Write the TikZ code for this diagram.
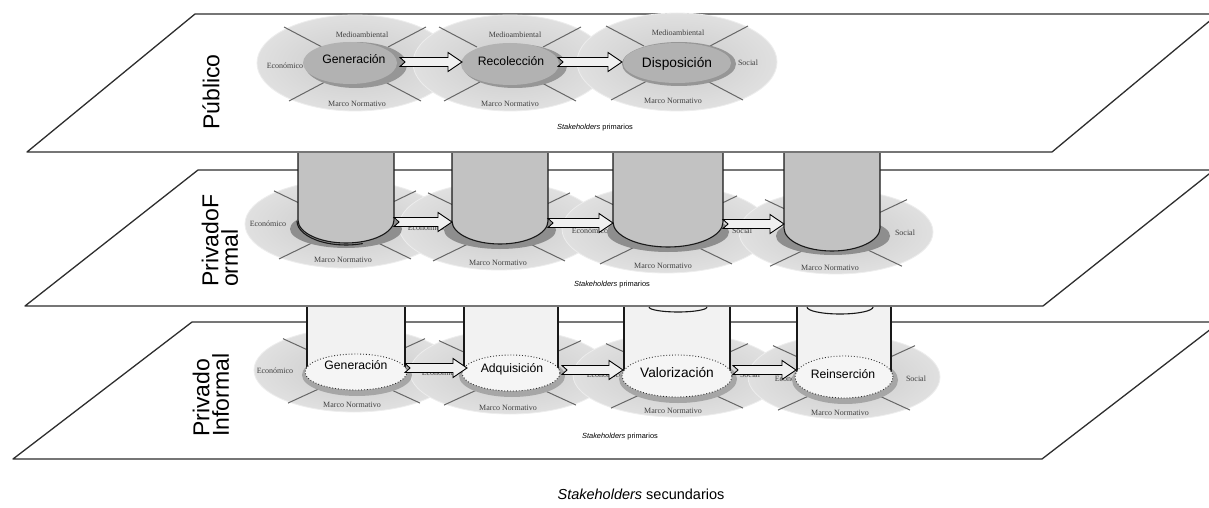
\documentclass[tikz,border=0pt]{standalone}
\usepackage{fontspec}
\setmainfont{Liberation Serif}
\newfontfamily\arialf{Liberation Sans}
\newfontfamily\timesf{Liberation Serif}
\usetikzlibrary{calc}
\definecolor{linec}{HTML}{2E2E2E}
\definecolor{ringin}{HTML}{CACACA}
\definecolor{ringout}{HTML}{E0E0E0}
\definecolor{ringedge}{HTML}{EDEDED}
\definecolor{xlinec}{HTML}{666666}
\definecolor{labc}{HTML}{404040}
\definecolor{innerc}{HTML}{B2B2B2}
\definecolor{innersh}{HTML}{969696}
\definecolor{midsh}{HTML}{8E8E8E}
\definecolor{cylmidc}{HTML}{C2C2C2}
\definecolor{botsh}{HTML}{A6A6A6}
\definecolor{cylbotc}{HTML}{F2F2F2}
\definecolor{dotfill}{HTML}{F5F5F5}
\definecolor{arrfill}{HTML}{F0F0F0}
\newcommand\ring[4]{\path[ring] (#1,#2) ellipse [x radius=#3pt, y radius=#4pt];}
\newcommand\xlines[3]{\begin{scope}[shift={(#1,#2)}, yscale=#3]
  \draw[xline] (-33,-16) -- (-71,-36);
  \draw[xline] (33,-16) -- (71,-36);
  \draw[xline] (-30,19) -- (-66,38);
  \draw[xline] (30,19) -- (66,38);
\end{scope}}
\newcommand\lab[4]{\node[lab] (#1) at (#2,#3) {#4};}
\newcommand\blockarrow[2]{\draw[arr] let \p1=(#1), \p2=(#2) in
  (\x1,\y1+4.5) -- (\x2-14,\y1+4.5) -- (\x2-14,\y1+9.5) -- (\x2,\y1) --
  (\x2-14,\y1-9.5) -- (\x2-14,\y1-4.5) -- (\x1,\y1-4.5) -- (\x1+5,\y1) -- cycle;}
% middle cylinder: name, cx, half width, bottom-arc centre y, arc ry
\newcommand\graycyl[5]{%
  \fill[cylmidc] (#2-#3,153) -- (#2-#3,#4) arc[start angle=180, end angle=360, x radius=#3pt, y radius=#5pt] -- (#2+#3,153) -- cycle;
  \draw[cylline] (#2-#3,153) -- (#2-#3,#4) arc[start angle=180, end angle=360, x radius=#3pt, y radius=#5pt] -- (#2+#3,153);
  \coordinate (#1) at (#2,#4);}
% bottom cylinder: name, cx, cy, rx, ry
\newcommand\lightcyl[5]{%
  \path[fill=botsh] (#2+1,#3+3) ellipse [x radius=#4pt+4pt, y radius=#5pt+3pt];
  \fill[cylbotc] (#2-#4+2,307) rectangle (#2+#4-2,#3);
  \draw[cylline] (#2-#4+2,307) -- (#2-#4+2,#3) (#2+#4-2,307) -- (#2+#4-2,#3);
  \path[fill=dotfill, draw=linec, dotted, line width=0.9pt] (#2,#3) ellipse [x radius=#4pt, y radius=#5pt];
  \coordinate (#1) at (#2,#3);}
\begin{document}
\begin{tikzpicture}[x=1pt,y=-1pt,
  layer/.style={draw=linec, line width=1.3pt, fill=white, line join=round},
  ring/.style={inner color=ringin, outer color=ringout, draw=ringedge, line width=0.8pt},
  xline/.style={draw=xlinec, line width=1pt},
  lab/.style={font=\timesf\fontsize{8}{9}\selectfont, text=labc, inner sep=0pt},
  big/.style={font=\arialf\fontsize{12.2}{14}\selectfont, inner sep=0pt, anchor=base},
  bigger/.style={font=\arialf\fontsize{13.7}{15}\selectfont, inner sep=0pt, anchor=base},
  side/.style={font=\arialf\fontsize{23}{19.5}\selectfont, rotate=90, anchor=west, align=left, inner sep=0pt},
  stake/.style={font=\arialf\fontsize{7.4}{9}\selectfont, inner sep=0pt},
  arr/.style={draw=black, line width=0.9pt, fill=arrfill, line join=miter},
  cylline/.style={draw=black!90, line width=1.1pt}]
\useasboundingbox (0,0) rectangle (1209,508);

% ================= Top layer: Publico =================
\draw[layer] (195,14) -- (1218,14) -- (1052,152) -- (27,152) -- cycle;
\node[side] (pub) at (211,130) {Público};

\ring{355}{63}{98}{48}
\ring{510}{63}{97}{48}
\ring{677}{62}{100}{49}
\xlines{355}{63}{1}
\xlines{510}{63}{1}
\xlines{677}{62}{1}
\lab{t1m}{362}{35}{Medioambiental}
\lab{t1e}{285}{66}{Económico}
\lab{t1n}{357}{104}{Marco Normativo}
\lab{t2m}{515}{35}{Medioambiental}
\lab{t2n}{510}{104}{Marco Normativo}
\lab{t3m}{678}{33}{Medioambiental}
\lab{t3n}{673}{101}{Marco Normativo}
\lab{t3s}{748}{63}{Social}

\path[fill=innersh] (356,65) ellipse [x radius=51pt, y radius=23pt];
\path[fill=innerc] (350,63) ellipse [x radius=47pt, y radius=21pt];
\path[fill=innersh] (515,66) ellipse [x radius=52pt, y radius=22pt];
\path[fill=innerc] (510,64) ellipse [x radius=49pt, y radius=21pt];
\path[fill=innersh] (679,64) ellipse [x radius=57pt, y radius=22pt];
\path[fill=innerc] (677,63) ellipse [x radius=54pt, y radius=20pt];

\node[big] (gen1) at (354,64) {Generación};
\node[big] (rec) at (511,66) {Recolección};
\node[bigger] (dis) at (677,68) {Disposición};

\coordinate (ta1s) at (400,62);
\coordinate (ta1e) at (462,62);
\coordinate (ta2s) at (558,62);
\coordinate (ta2e) at (622,62);
\blockarrow{ta1s}{ta1e}
\blockarrow{ta2s}{ta2e}
\node[stake] (stk1) at (595,128) {\textit{Stakeholders} primarios};

% ================= Middle layer: Privado Formal =================
\draw[layer] (198,170) -- (1214,170) -- (1043,306) -- (25,306) -- cycle;
\node[side] (pform) at (220,287) {PrivadoF\\ormal};

\ring{345}{224}{100}{44}
\ring{499}{226}{100}{44}
\ring{666}{229}{104}{44}
\ring{836}{232}{97}{42}
\xlines{345}{224}{0.92}
\xlines{499}{226}{0.92}
\xlines{666}{229}{0.92}
\xlines{836}{232}{0.9}
\lab{m1e}{268}{224}{Económico}
\lab{m1n}{343}{260}{Marco Normativo}
\lab{m2e}{426}{228}{Económico}
\lab{m2n}{498}{263}{Marco Normativo}
\lab{m3e}{590}{231}{Económico}
\lab{m3s}{742}{231}{Social}
\lab{m3n}{663}{266}{Marco Normativo}
\lab{m4s}{905}{233}{Social}
\lab{m4n}{830}{268}{Marco Normativo}

\path[fill=midsh] (346,229) ellipse [x radius=56pt, y radius=19pt];
\path[fill=midsh] (500,230) ellipse [x radius=56pt, y radius=19pt];
\path[fill=midsh] (668,232) ellipse [x radius=61pt, y radius=20pt];
\path[fill=midsh] (833,236) ellipse [x radius=57pt, y radius=19pt];

\graycyl{c1}{346}{48}{220}{23}
\draw[cylline] (297,221) arc[start angle=180, end angle=290, x radius=49pt, y radius=24pt];
\graycyl{c2}{500}{48}{221}{23}
\graycyl{c3}{668}{55}{222}{25}
\graycyl{c4}{832}{48}{228}{23}

\coordinate (ma1s) at (394,222);
\coordinate (ma1e) at (452,222);
\coordinate (ma2s) at (548,223);
\coordinate (ma2e) at (613,223);
\coordinate (ma3s) at (723,224);
\coordinate (ma3e) at (784,224);
\blockarrow{ma1s}{ma1e}
\blockarrow{ma2s}{ma2e}
\blockarrow{ma3s}{ma3e}
\node[stake] (stk2) at (612,285) {\textit{Stakeholders} primarios};

% ================= Bottom layer: Privado Informal =================
\draw[layer] (192,322) -- (1220,322) -- (1042,459) -- (13,459) -- cycle;
\node[side] (pinf) at (211,437) {Privado\\Informal};

\ring{354}{370}{100}{42}
\ring{510}{372}{100}{42}
\ring{677}{375}{104}{42}
\ring{844}{377}{96}{42}
\xlines{354}{370}{0.87}
\xlines{510}{372}{0.87}
\xlines{677}{375}{0.87}
\xlines{844}{377}{0.87}
\lab{b1e}{275}{371}{Económico}
\lab{b1n}{352}{405}{Marco Normativo}
\lab{b2e}{440}{373}{Económico}
\lab{b2n}{508}{408}{Marco Normativo}
\lab{b3e}{605}{375}{Económico}
\lab{b3s}{750}{375}{Social}
\lab{b3n}{673}{411}{Marco Normativo}
\lab{b4e}{793}{379}{Económico}
\lab{b4s}{916}{379}{Social}
\lab{b4n}{840}{413}{Marco Normativo}

\lightcyl{d1}{356}{372}{51}{18}
\lightcyl{d2}{511}{373}{49}{18}
\lightcyl{d3}{677}{376}{55}{21}
\lightcyl{d4}{844}{377}{49}{21}
\draw[cylline] (649,307) arc[start angle=180, end angle=360, x radius=29pt, y radius=5pt];
\draw[cylline] (807,307) arc[start angle=180, end angle=360, x radius=33pt, y radius=7pt];

\node[big] (gen2) at (356,369) {Generación};
\node[big] (adq) at (512,372) {Adquisición};
\node[bigger] (val) at (677,377) {Valorización};
\node[big] (rei) at (843,378) {Reinserción};

\coordinate (ba1s) at (405,368);
\coordinate (ba1e) at (467,368);
\coordinate (ba2s) at (562,370);
\coordinate (ba2e) at (623,370);
\coordinate (ba3s) at (733,370);
\coordinate (ba3e) at (796,370);
\blockarrow{ba1s}{ba1e}
\blockarrow{ba2s}{ba2e}
\blockarrow{ba3s}{ba3e}
\node[stake] (stk3) at (620,437) {\textit{Stakeholders} primarios};

\node[font=\arialf\fontsize{14.5}{17}\selectfont, inner sep=0pt] (sec) at (641,494) {\textit{Stakeholders} secundarios};
\end{tikzpicture}
\end{document}
